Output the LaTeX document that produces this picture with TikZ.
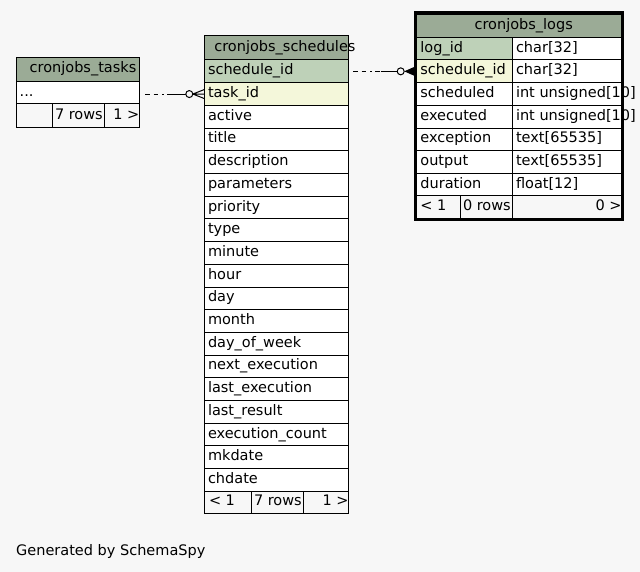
\documentclass[tikz,border=0pt]{standalone}
\usepackage{fontspec}
\setmainfont{DejaVu Sans}
\usetikzlibrary{positioning,calc}
\definecolor{hdrgreen}{HTML}{9BAB96}
\definecolor{pkgreen}{HTML}{BED1B8}
\definecolor{fkyellow}{HTML}{F4F7DA}
\definecolor{pagegray}{HTML}{F7F7F7}
\tikzset{cell/.style={draw=black, line width=1pt, fill=white, rectangle, anchor=north west,
    minimum width=#1, minimum height=22.7pt, inner sep=0pt, outer sep=0pt},
cell/.default={144pt},
txt/.style={font=\fontsize{14.5}{17}\selectfont, text height=11pt, text depth=4pt, inner sep=0pt},
lft/.style={txt, anchor=west, xshift=3.5pt},
rgt/.style={txt, anchor=east, xshift=0.5pt},
rel/.style={line width=1pt, dash pattern=on 4.5pt off 4pt on 4.5pt off 4pt on 2pt off 3pt}}

\begin{document}
\begin{tikzpicture}[x=1pt,y=-1pt]
\useasboundingbox[fill=pagegray] (0,0) rectangle (640,572);

% cronjobs_tasks
\node[cell=123pt, fill=hdrgreen, minimum height=24pt, label={[txt]center:\hspace{11pt}cronjobs\_tasks}] (tk-h) at (16,57.3) {};
\node[cell=123pt, label={[lft]west:...}] (tk-r) at (16,81.3) {};
\node[cell=36.3pt, fill=pagegray, minimum height=23.3pt] (tk-f1) at (16,104) {};
\node[cell=52pt, fill=pagegray, minimum height=23.3pt, label={[lft,xshift=-1pt]west:7 rows}] (tk-f2) at (52.3,104) {};
\node[cell=34.7pt, fill=pagegray, minimum height=23.3pt, label={[rgt]east:1 >}] (tk-f3) at (104.3,104) {};

% cronjobs_schedules
\node[cell, fill=hdrgreen, minimum height=24pt, label={[txt,xshift=8.6pt]center:cronjobs\_schedules}] (sc-h) at (204.3,36) {};
\node[cell, fill=pkgreen, label={[lft]west:schedule\_id}] (sc-pk) at (204.3,60) {};
\node[cell, fill=fkyellow, label={[lft]west:task\_id}] (sc-fk) at (204.3,82.7) {};
\foreach \cname [count=\i from 0] in {active,title,description,parameters,priority,type,minute,hour,day,month,day\_of\_week,next\_execution,last\_execution,last\_result,execution\_count,mkdate,chdate}
    \node[cell, label={[lft]west:\cname}] (sc-\i) at (204.3,105.4+22.7*\i) {};
\node[cell=47pt, fill=pagegray, minimum height=22pt, label={[lft,xshift=1pt]west:< 1}] (sc-f1) at (204.3,491.3) {};
\node[cell=52pt, fill=pagegray, minimum height=22pt, label={[lft,xshift=-1pt]west:7 rows}] (sc-f2) at (251.3,491.3) {};
\node[cell=45pt, fill=pagegray, minimum height=22pt, label={[rgt]east:1 >}] (sc-f3) at (303.3,491.3) {};

% cronjobs_logs
\node[cell=204.6pt, fill=hdrgreen, minimum height=23pt, label={[txt,xshift=4.7pt]center:cronjobs\_logs}] (lg-h) at (416.7,14.3) {};
\node[cell=95.6pt, fill=pkgreen, label={[lft]west:log\_id}] (lg-n0) at (416.7,37.3) {};
\node[cell=109pt, label={[lft]west:char[32]}] (lg-t0) at (512.3,37.3) {};
\node[cell=95.6pt, fill=fkyellow, label={[lft]west:schedule\_id}] (lg-n1) at (416.7,60) {};
\node[cell=109pt, label={[lft]west:char[32]}] (lg-t1) at (512.3,60) {};
\foreach \cname/\ctype [count=\i from 2] in {scheduled/int~unsigned[10],executed/int~unsigned[10],exception/text[65535],output/text[65535],duration/float[12]}{
    \node[cell=95.6pt, label={[lft]west:\cname}] (lg-n\i) at (416.7,37.3+22.7*\i) {};
    \node[cell=109pt, label={[lft]west:\ctype}] (lg-t\i) at (512.3,37.3+22.7*\i) {};
}
\node[cell=43.6pt, fill=pagegray, minimum height=22.3pt, label={[lft]west:< 1}] (lg-f1) at (416.7,196) {};
\node[cell=52pt, fill=pagegray, minimum height=22.3pt, label={[lft,xshift=-1pt]west:0 rows}] (lg-f2) at (460.3,196) {};
\node[cell=109pt, fill=pagegray, minimum height=22.3pt, label={[rgt]east:0 >}] (lg-f3) at (512.3,196) {};

% relationships
\coordinate (r1) at ($(sc-fk.west)+(-35,0)$);
\coordinate (o1) at ($(sc-fk.west)+(-15,0)$);
\draw[rel, shorten <=6pt] (tk-r.east |- sc-fk.west) -- (r1);
\draw[line width=1pt] (r1) -- ($(o1)+(-3.5,0)$);
\draw[line width=1pt, fill=pagegray] (o1) circle (3.5);
\draw[line width=1pt] ($(o1)+(3.5,0)$) -- ($(sc-fk.west)+(0,-4.5)$)
    ($(o1)+(3.5,0)$) -- (sc-fk.west)
    ($(o1)+(3.5,0)$) -- ($(sc-fk.west)+(0,4.5)$);

\coordinate (r2) at ($(lg-n1.west)+(-36,0)$);
\coordinate (o2) at ($(lg-n1.west)+(-16,0)$);
\draw[rel, shorten <=4.7pt] (sc-pk.east) -- (r2);
\draw[line width=1pt] (r2) -- ($(o2)+(-3.5,0)$);
\draw[line width=1pt, fill=pagegray] (o2) circle (3.5);
\fill ($(o2)+(3.5,0)$) -- ($(lg-n1.west)+(0,-5.5)$) -- ($(lg-n1.west)+(0,5.5)$) -- cycle;

% focus border
\draw[line width=3pt] (415,12.7) rectangle (622.7,219.7);

\node[txt, anchor=base west] (gen) at (16,555) {Generated by SchemaSpy};
\end{tikzpicture}
\end{document}
